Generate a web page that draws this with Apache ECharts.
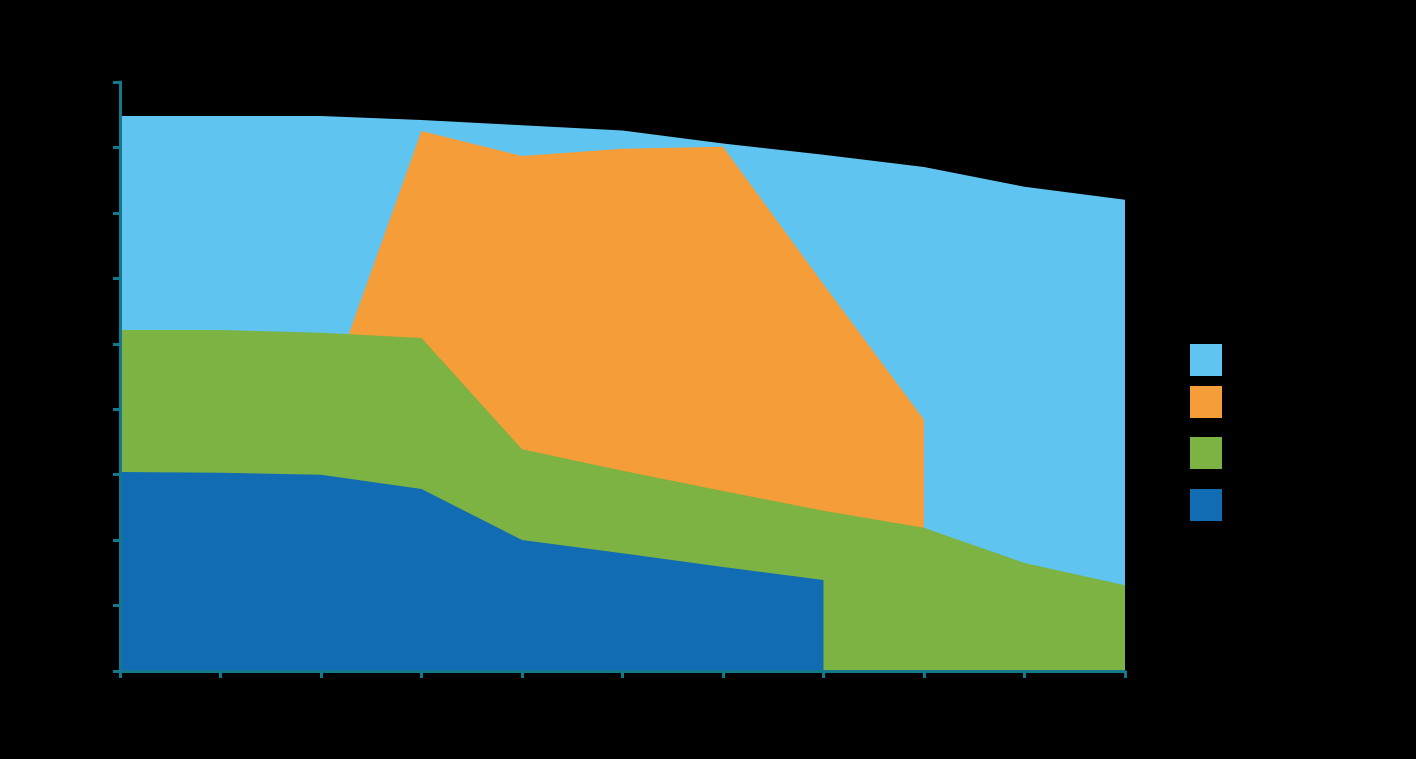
<!DOCTYPE html>
<html>
<head>
<meta charset="utf-8">
<style>
html,body{margin:0;padding:0;background:#000;}
#chart{width:1416px;height:759px;}
</style>
<script src="https://cdn.jsdelivr.net/npm/echarts@6/dist/echarts.min.js"></script>
</head>
<body>
<div id="chart"></div>
<script>
var categories = ['1','2','3','4','5','6','7','8','9','10','11'];
var seriesNames = ['Series 1','Series 2','Series 3','Series 4'];
var lightBlue = [8.48, 8.48, 8.48, 8.42, 8.34, 8.26, 8.06, 7.89, 7.70, 7.40, 7.20];
var orange    = [null, null, 3.96, 8.25, 7.87, 7.98, 8.01, 5.91, 3.84, null, null];
var green     = [5.21, 5.21, 5.17, 5.09, 3.39, 3.06, 2.75, 2.45, 2.19, 1.65, 1.31];
var darkBlue  = [3.04, 3.03, 3.00, 2.78, 2.00, 1.80, 1.59, 1.39, null, null, null];
var yTicks = [0,1,2,3,4,5,6,7,8,9];

var colors = ['#5fc4f0', '#f59d38', '#7cb342', '#126cb4'];
var datas = [lightBlue, orange, green, darkBlue];

var chart = echarts.init(document.getElementById('chart'));
var series = datas.map(function(d, i){
  return {
    name: seriesNames[i],
    type: 'line',
    data: d,
    z: 2 + i,
    symbol: 'none',
    connectNulls: false,
    smooth: false,
    lineStyle: {width: 0, color: colors[i]},
    itemStyle: {color: colors[i]},
    areaStyle: {color: colors[i], opacity: 1},
    emphasis: {disabled: true},
    silent: true
  };
});
var legendTops = [344, 386, 437, 489];
var legends = seriesNames.map(function(n, i){
  return {
    left: 1190, top: legendTops[i], orient: 'vertical', padding: 0,
    itemWidth: 32, itemHeight: 32, icon: 'rect',
    data: [{name: n, itemStyle: {color: colors[i]}}],
    formatter: function(){ return ''; },
    selectedMode: false
  };
});
chart.setOption({
  backgroundColor: '#000',
  animation: false,
  color: colors,
  grid: {left: 120, right: 291, top: 82, bottom: 88},
  legend: legends,
  xAxis: {
    type: 'category', data: categories, boundaryGap: false, z: 20,
    axisLine: {show: true, lineStyle: {color: '#13798d', width: 3}},
    axisTick: {show: true, length: 7, lineStyle: {color: '#13798d', width: 3}},
    axisLabel: {show: false},
    splitLine: {show: false}
  },
  yAxis: {
    type: 'value', min: yTicks[0], max: yTicks[yTicks.length-1], interval: 1, z: 20,
    axisLine: {show: true, lineStyle: {color: '#13798d', width: 3}},
    axisTick: {show: true, length: 7, lineStyle: {color: '#13798d', width: 3}},
    axisLabel: {show: false},
    splitLine: {show: false}
  },
  series: series
});
</script>
</body>
</html>
